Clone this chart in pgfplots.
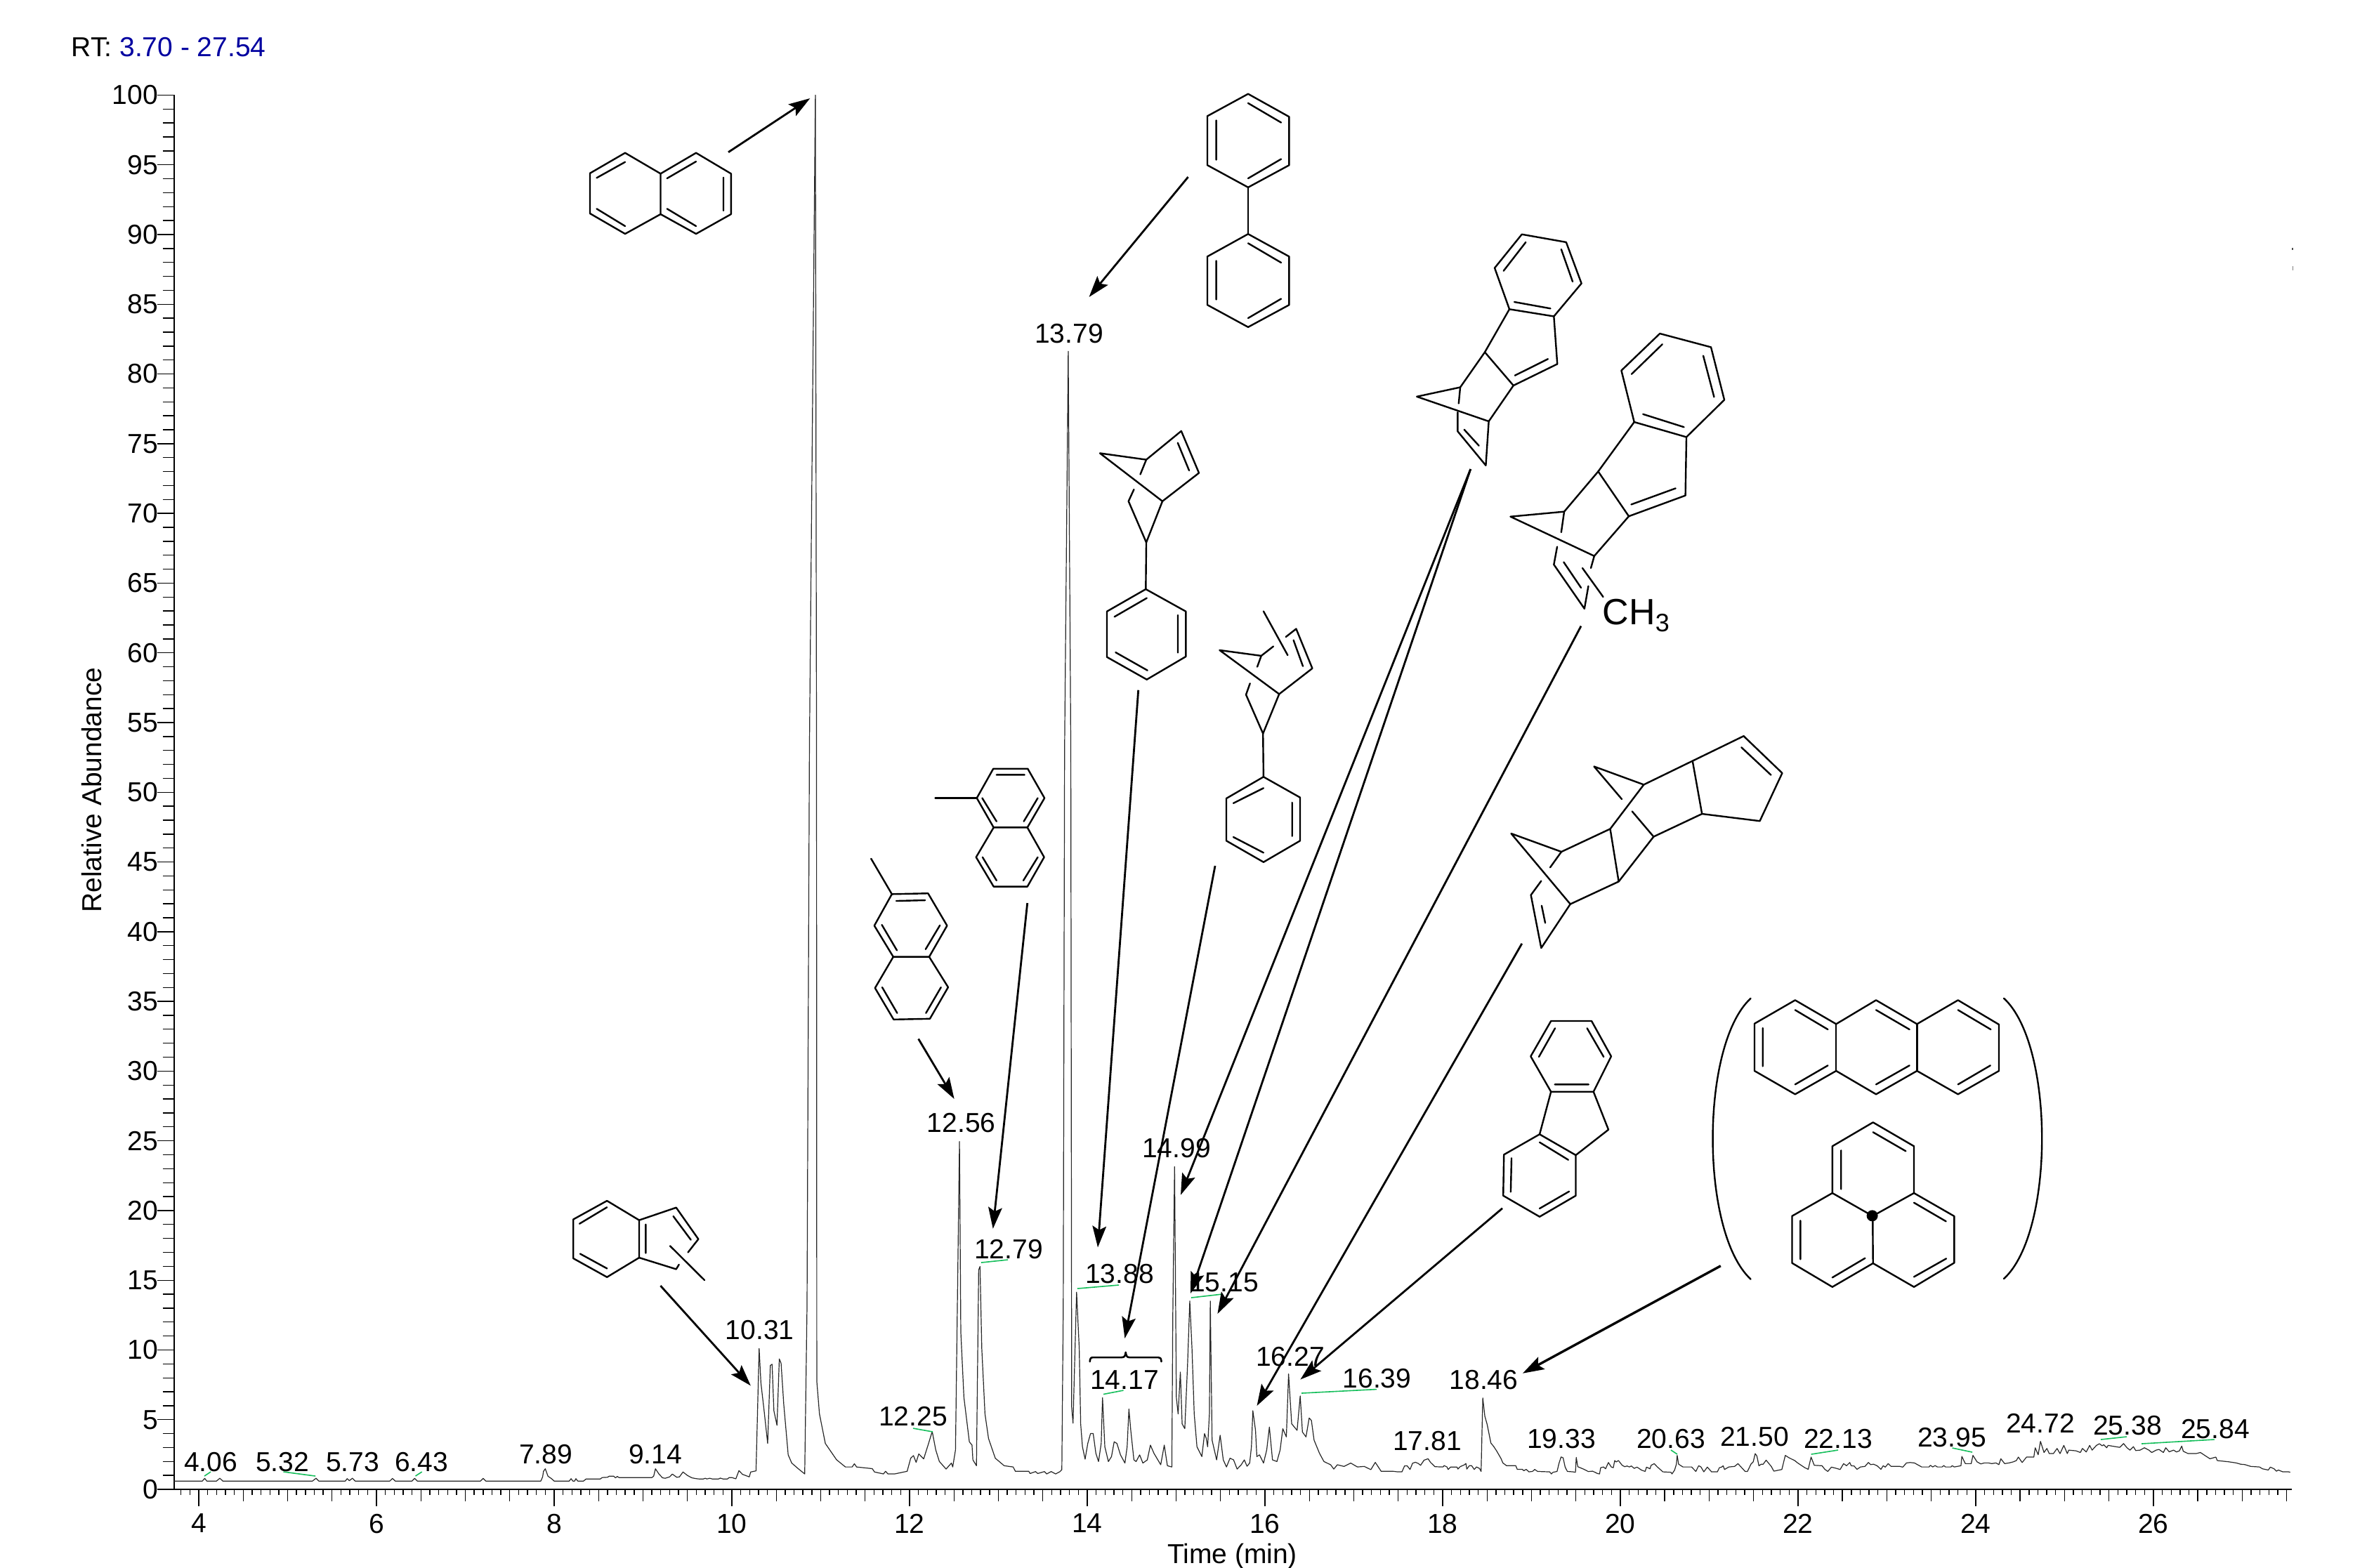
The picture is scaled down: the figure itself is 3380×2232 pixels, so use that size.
\documentclass[border=0pt]{standalone}
\usepackage{fontspec}
\setmainfont{Liberation Sans}
\usepackage{pgfplots}
\pgfplotsset{compat=1.18}
\usetikzlibrary{arrows.meta}
\newcommand\lab{\fontsize{9.75pt}{11pt}\selectfont}
\definecolor{leader}{RGB}{20,190,90}
\definecolor{rtblue}{RGB}{0,0,160}
\pgfplotsset{frame/.style={
  scale only axis,width=753.9pt,height=496.4pt,
  xmin=3.72,xmax=27.56,ymin=0,ymax=100,
  at={(61.9pt,-530.25pt)},anchor=south west,clip=false,
  tick align=outside,
  tick style={black,line width=0.35pt},
}}
\tikzset{
  b/.style={line width=0.6pt,line join=round,line cap=round},
  a/.style={line width=0.7pt,-{Stealth[length=7.6pt,width=4.9pt,inset=1.4pt]}},
  g/.style={line width=0.4pt,leader},
}
\newcommand\pk[3]{\node[font=\lab,inner sep=0pt] at (#1,#2) {#3};}
\begin{document}
\begin{tikzpicture}[x=0.25pt,y=-0.25pt]
\path[use as bounding box] (0,0) rectangle (3380,2232);
% 0.1-min ticks
\begin{axis}[frame,axis x line*=bottom,axis y line=none,
  xtick={3.8,3.9,...,27.5},xticklabels={},major tick length=2pt]
\end{axis}
% 0.5-min ticks
\begin{axis}[frame,axis x line*=bottom,axis y line=none,
  xtick={4,4.5,...,27.5},xticklabels={},major tick length=4.25pt]
\end{axis}
\begin{axis}[frame,axis x line*=bottom,axis y line*=left,
  axis line style={-,line width=0.5pt},
  xtick={4,6,...,26},
  ytick={0,5,...,100},minor y tick num=4,
  major tick length=6pt,minor tick length=4pt,
  every tick label/.append style={font=\lab},
  /pgf/number format/assume math mode=true,
  xticklabel style={inner sep=0pt,yshift=-2.5pt},
  yticklabel style={inner sep=0pt,xshift=0.5pt},
  xlabel={Time (min)},ylabel={Relative Abundance},
  every axis label/.append style={font=\lab},
  xlabel style={at={(axis description cs:0.4997,-0.0481)},anchor=center,inner sep=0pt},
  ylabel style={at={(axis description cs:-0.0387,0.5016)},anchor=center,inner sep=0pt},
]
\addplot[line width=0.3pt,black!85,line join=round,y filter/.expression={0.9985*y+0.15}] coordinates {
(3.72,0.45)(4.04,0.45)(4.067,0.64)(4.09,0.45)(4.20,0.45)(4.237,0.65)(4.27,0.45)(5.28,0.45)(5.32,0.65)(5.35,0.45)
(5.65,0.45)(5.67,0.62)(5.695,0.48)(5.73,0.65)(5.76,0.45)(6.15,0.45)(6.18,0.64)(6.21,0.45)(6.40,0.45)(6.43,0.64)(6.46,0.45)
(7.17,0.45)(7.20,0.64)(7.23,0.45)(7.85,0.45)(7.87,0.75)(7.88,1.15)(7.90,1.33)(7.93,0.80)(7.97,0.62)(8.0,0.45)
(8.17,0.45)(8.19,0.62)(8.21,0.45)(8.23,0.45)(8.245,0.62)(8.265,0.45)(8.33,0.45)(8.36,0.60)(8.52,0.60)(8.54,0.70)
(8.60,0.72)(8.62,0.80)(8.67,0.80)(8.69,0.68)(8.71,0.78)(8.73,0.70)(9.10,0.70)(9.12,0.80)(9.14,1.33)(9.18,0.95)
(9.22,0.68)(9.25,0.65)(9.30,0.75)(9.33,0.95)(9.38,0.72)(9.41,0.75)(9.45,1.1)(9.50,0.85)(9.55,0.68)(9.6,0.62)(9.63,0.60)
(9.68,0.60)(9.70,0.65)(9.72,0.60)(9.75,0.65)(9.78,0.60)(9.85,0.60)(9.87,0.66)(9.9,0.60)(9.95,0.60)(9.97,0.70)(10.0,0.70)
(10.045,0.61)(10.08,1.20)(10.12,0.93)(10.196,0.75)(10.212,1.10)(10.272,1.18)(10.307,9.97)(10.327,7.50)(10.363,5.50)
(10.403,3.15)(10.433,8.75)(10.453,8.84)(10.473,5.5)(10.508,4.45)(10.534,9.22)(10.554,8.91)(10.584,5.97)(10.634,2.33)
(10.674,1.74)(10.75,1.32)(10.82,0.96)(10.846,13)(10.873,53)(10.94,100)(10.953,53)(10.956,7.62)(10.986,5.27)(11.052,3.15)
(11.178,1.98)(11.278,1.46)(11.354,1.46)(11.379,1.69)(11.404,1.46)(11.58,1.34)(11.606,1.10)(11.706,0.96)(11.73,1.15)
(11.757,0.96)(11.832,0.96)(11.973,1.15)(12.013,2.09)(12.044,2.28)(12.074,1.79)(12.104,2.40)(12.159,2.04)(12.21,3.07)
(12.255,4.01)(12.295,2.68)(12.335,1.86)(12.411,1.31)(12.471,1.74)(12.486,1.46)(12.517,2.68)(12.562,24.84)(12.577,11.15)
(12.612,6.45)(12.673,3.27)(12.703,3.03)(12.713,1.97)(12.753,1.55)(12.778,15.62)(12.793,15.86)(12.813,9.97)(12.849,5.27)
(12.889,3.50)(12.965,2.09)(13.065,1.55)(13.166,1.46)(13.191,1.15)(13.342,1.15)(13.357,0.99)(13.418,1.13)(13.443,0.99)
(13.518,1.13)(13.543,0.96)(13.594,1.13)(13.644,0.96)(13.694,1.13)(13.714,1.27)(13.73,13)(13.745,53)(13.786,81.6)
(13.815,53)(13.825,5.74)(13.84,4.61)(13.88,14.02)(13.91,9.97)(13.926,4.56)(13.946,2.91)(13.976,2.02)(14.006,3.15)
(14.037,3.86)(14.067,3.86)(14.097,2.44)(14.127,1.85)(14.157,3.15)(14.172,6.44)(14.198,2.91)(14.238,1.85)(14.273,2.21)
(14.303,3.27)(14.334,3.15)(14.374,2.33)(14.424,1.74)(14.449,2.91)(14.469,5.62)(14.49,4.09)(14.525,1.97)(14.55,1.85)
(14.59,2.33)(14.626,1.74)(14.676,1.97)(14.711,3.03)(14.751,2.44)(14.827,1.62)(14.867,3.03)(14.902,1.55)(14.952,1.46)
(14.963,12.33)(14.983,23.03)(15.003,6.45)(15.023,5.27)(15.048,8.28)(15.068,4.56)(15.098,4.21)(15.129,8.80)(15.154,13.38)
(15.179,9.97)(15.204,5.27)(15.235,2.91)(15.29,2.21)(15.32,3.86)(15.34,3.50)(15.355,2.91)(15.375,5.27)(15.385,13.38)
(15.405,3.39)(15.456,1.97)(15.496,3.74)(15.531,1.97)(15.567,1.46)(15.607,2.09)(15.647,1.97)(15.687,1.31)(15.733,1.62)
(15.768,1.97)(15.798,1.51)(15.828,1.74)(15.848,2.91)(15.864,5.50)(15.894,4.09)(15.909,2.21)(15.939,2.33)(15.984,1.74)
(16.02,2.68)(16.05,4.33)(16.085,1.97)(16.135,1.85)(16.171,2.68)(16.201,4.21)(16.241,3.62)(16.266,8.14)(16.301,4.56)
(16.362,4.09)(16.397,6.56)(16.422,3.97)(16.462,3.62)(16.498,4.98)(16.523,4.80)(16.553,3.39)(16.614,2.44)(16.664,1.85)
(16.739,1.62)(16.775,1.31)(16.815,1.62)(16.89,1.50)(16.966,1.74)(17.041,1.46)(17.117,1.50)(17.192,1.27)(17.242,1.79)
(17.308,1.15)(17.444,1.15)
(17.494,1.11)(17.542,1.11)(17.571,1.53)(17.60,1.55)(17.633,1.28)(17.662,1.73)(17.694,1.80)(17.726,1.71)(17.752,1.58)
(17.791,1.95)(17.836,2.05)(17.865,1.78)(17.914,1.48)(18.004,1.46)(18.017,1.56)(18.049,1.46)(18.062,1.28)(18.088,1.45)
(18.162,1.45)(18.172,1.31)(18.197,1.48)(18.243,1.61)(18.262,1.71)(18.272,1.31)(18.301,1.55)(18.327,1.55)(18.356,1.28)
(18.381,1.46)(18.414,1.36)(18.433,1.14)(18.452,6.42)(18.475,5.11)(18.501,4.52)(18.543,3.18)(18.575,2.93)(18.607,2.62)
(18.656,2.08)(18.678,1.75)(18.72,1.55)(18.823,1.55)(18.84,1.29)(18.898,1.29)(18.914,1.19)(18.94,1.29)(18.972,1.11)
(19.011,1.14)(19.037,1.28)(19.069,1.14)(19.204,1.11)(19.224,0.96)(19.243,1.08)(19.288,1.14)(19.311,1.75)(19.333,2.18)
(19.356,2.12)(19.379,1.45)(19.404,1.14)(19.469,1.11)(19.495,1.08)(19.504,2.15)(19.521,1.48)(19.592,1.29)(19.64,1.13)
(19.688,1.16)(19.743,0.99)(19.766,0.96)(19.779,1.41)(19.811,1.46)(19.834,1.33)(19.866,1.78)(19.898,1.46)(19.921,1.41)
(19.937,1.92)(19.953,1.82)(19.979,1.92)(20.021,1.58)(20.05,1.48)(20.076,1.53)(20.101,1.46)(20.124,1.53)(20.156,1.36)
(20.188,1.45)(20.237,1.24)(20.279,1.14)(20.295,1.45)(20.334,1.33)(20.347,1.58)(20.382,1.70)(20.414,1.48)(20.479,1.11)
(20.569,1.08)(20.582,0.96)(20.611,1.24)(20.631,1.66)(20.64,2.29)(20.656,1.66)(20.705,1.46)(20.802,1.46)(20.85,1.14)
(20.882,1.55)(20.908,1.46)(20.94,1.11)(20.979,1.45)(21.027,1.11)(21.092,1.11)(21.115,1.41)(21.14,1.45)(21.157,1.55)
(21.173,1.28)(21.221,1.46)(21.286,1.50)(21.324,1.70)(21.366,1.41)(21.405,1.14)(21.431,1.14)(21.47,1.66)(21.496,1.83)
(21.518,2.42)(21.537,2.25)(21.56,1.55)(21.586,1.66)(21.608,1.66)(21.641,1.95)(21.673,1.70)(21.699,1.50)(21.728,1.16)
(21.818,1.28)(21.857,2.29)(21.899,2.12)(21.963,1.92)(21.996,1.75)(22.076,1.41)(22.115,1.29)(22.147,2.17)(22.183,1.58)
(22.27,1.55)(22.302,1.29)(22.335,1.14)(22.376,1.45)(22.431,1.36)
(22.474,1.28)(22.513,1.70)(22.546,1.55)(22.582,1.78)(22.599,1.55)(22.631,1.53)(22.664,1.29)(22.703,1.46)(22.753,1.50)
(22.792,1.78)(22.818,1.63)(22.851,1.66)(22.894,1.53)(22.933,1.29)(22.959,1.55)(22.982,1.45)(23.015,1.70)(23.048,1.50)
(23.146,1.50)(23.179,1.45)(23.221,1.75)(23.261,1.78)(23.31,1.75)(23.392,1.46)(23.474,1.46)(23.49,1.58)(23.516,1.46)
(23.543,1.56)(23.569,1.46)(23.621,1.46)(23.641,1.56)(23.661,1.46)(23.72,1.46)(23.736,1.55)(23.759,1.46)(23.834,1.55)
(23.844,2.22)(23.883,1.70)(23.949,1.70)(23.969,2.29)(24.015,1.83)(24.057,1.68)(24.097,1.75)(24.146,1.75)(24.179,1.70)
(24.228,1.75)(24.261,1.63)(24.283,2.05)(24.326,1.70)(24.375,1.75)(24.424,1.83)(24.457,1.92)(24.48,2.17)(24.523,1.78)
(24.572,2.17)(24.654,2.17)(24.67,2.84)(24.703,2.34)(24.729,3.30)(24.769,2.50)(24.801,2.79)(24.828,2.42)(24.874,2.42)
(24.916,2.79)(24.949,2.42)(24.992,3.01)(25.031,2.42)(25.047,2.67)(25.129,2.62)(25.178,2.50)(25.201,2.79)(25.244,2.54)
(25.283,3.01)(25.31,2.67)(25.359,3.01)(25.392,3.13)(25.424,2.98)(25.441,3.06)(25.474,2.84)(25.49,3.01)(25.572,2.92)
(25.621,2.87)(25.664,3.14)(25.703,2.84)(25.736,2.67)(25.775,2.92)(25.801,2.64)(25.85,2.67)(25.899,2.84)(25.949,2.67)
(25.982,2.50)(26.031,2.67)(26.063,2.72)(26.112,2.50)(26.139,2.84)(26.178,2.55)(26.227,2.67)(26.26,2.54)(26.293,2.62)
(26.319,2.96)(26.336,2.59)(26.391,2.42)(26.48,2.42)(26.529,2.50)(26.588,2.25)(26.637,2.05)(26.703,2.17)(26.719,1.92)
(26.85,1.83)(26.932,1.75)(26.981,1.66)(27.03,1.63)(27.096,1.50)(27.194,1.46)(27.227,1.33)(27.293,1.24)(27.316,1.45)
(27.358,1.33)(27.385,1.16)(27.407,1.24)(27.457,1.11)(27.522,1.11)(27.54,1.08)
};
\end{axis}
% header
\node[font=\lab,inner sep=0pt,anchor=west] at (101,67) {RT: \textcolor{rtblue}{3.70 - 27.54}};
% peak labels
\pk{300}{2082}{4.06}\pk{402}{2082}{5.32}\pk{502}{2082}{5.73}\pk{600}{2082}{6.43}
\pk{777}{2071}{7.89}\pk{933}{2071}{9.14}\pk{1081.6}{1894.5}{10.31}\pk{1300}{2017}{12.25}
\pk{1368.6}{1599.4}{12.56}\pk{1436}{1778.7}{12.79}\pk{1522}{475}{13.79}\pk{1594}{1814}{13.88}
\pk{1601}{1965.5}{14.17}\pk{1675}{1635}{14.99}\pk{1743}{1826}{15.15}\pk{1837}{1932}{16.27}
\pk{1960.5}{1963}{16.39}\pk{2032}{2052}{17.81}\pk{2112.5}{1965}{18.46}\pk{2223}{2049}{19.33}
\pk{2379}{2049}{20.63}\pk{2498}{2046}{21.50}\pk{2617}{2049}{22.13}\pk{2779}{2047}{23.95}
\pk{2905}{2027}{24.72}\pk{3029}{2030}{25.38}\pk{3154}{2035}{25.84}
% leader lines
\draw[g] (1300,2034)--(1328,2039);
\draw[g] (1397,1798)--(1435,1794);
\draw[g] (1534,1835)--(1593,1830);
\draw[g] (1571,1985.5)--(1599.5,1980);
\draw[g] (1696,1848)--(1740,1843);
\draw[g] (1853,1984)--(1960,1978.5);
\draw[g] (291,2102)--(300,2096);
\draw[g] (403.5,2096)--(449,2102);
\draw[g] (591.5,2102)--(600.7,2096);
\draw[g] (2379,2065)--(2388,2071);
\draw[g] (2578.6,2071)--(2617,2065);
\draw[g] (2779.5,2062)--(2808,2068);
\draw[g] (2991,2050)--(3028,2046);
\draw[g] (3049,2056)--(3152.7,2050);
% specks
\draw[line width=0.4pt,black!70] (3264,352.5)--(3264,356);
\draw[line width=0.3pt,black!50] (3264.3,379)--(3264.3,385);
% arrows
\draw[a] (1037,216.7)--(1153.3,140);
\draw[a] (1691.6,252)--(1550.5,423);
\draw[a] (2093.7,668)--(1681,1701.7);
\draw[a] (2093.7,668)--(1695,1842);
\draw[a] (2251,891.5)--(1733.4,1871);
\draw[a] (2166.8,1343.7)--(1789.5,2002);
\draw[a] (1620.7,982.7)--(1563,1776.4);
\draw[a] (1730,1233)--(1601.4,1906);
\draw[a] (1462.7,1286)--(1413.7,1749.8);
\draw[a] (1307.6,1479.4)--(1358.6,1565);
\draw[a] (940.4,1831)--(1068.8,1973.3);
\draw[a] (2139,1720.7)--(1851.4,1964.5);
\draw[a,line width=0.85pt] (2449.8,1802.7)--(2167.9,1955.7);
% brace
\draw[b,line width=0.65pt] (1551.7,1939) .. controls (1552,1934) and (1553,1933) .. (1557,1933)
 -- (1597,1933) .. controls (1601,1933) and (1602,1931) .. (1602.7,1925.8)
 .. controls (1603.4,1931) and (1604.5,1933) .. (1608,1933) -- (1649,1933)
 .. controls (1652,1933) and (1653,1934) .. (1653.5,1939);
% naphthalene
\draw[b] (890,217.7)--(840,246.7)--(840,304)--(890,333)--(940.5,305)--(940.5,247.3)--cycle;
\draw[b] (940.5,247.3)--(991,217.7)--(1040.8,247.3)--(1040.8,305)--(991,333)--(940.5,305);
\draw[b] (849.5,253.3)--(890,230.7) (849.5,297.3)--(890,322) (949.7,254)--(991,230) (1030,252.7)--(1030,300) (949.7,297.3)--(991,322);
% biphenyl
\draw[b] (1777,133.7)--(1835.4,166.3)--(1835.4,235.2)--(1777,266.8)--(1719,235.2)--(1719,165.3)--cycle;
\draw[b] (1777,146.9)--(1824,174.5) (1731.6,171.4)--(1731.6,227.6) (1777,254)--(1824,226.5);
\draw[b] (1777,266.8)--(1777,333.2);
\draw[b] (1777,333.2)--(1835.4,365.3)--(1835.4,434.2)--(1777,465.8)--(1719,434.2)--(1719,365.3)--cycle;
\draw[b] (1777,346.4)--(1824,374) (1731.6,371.4)--(1731.6,426.5) (1777,453)--(1824,425.5);
% phenyl-norbornene
\draw[b] (1632,654.6)--(1681.8,613.8)--(1707,673.5)--(1655,713.8)--(1566,645.4)--cycle;
\draw[b] (1676.8,630.6)--(1693,670);
\draw[b] (1632,654.6)--(1623.5,675.5) (1614.4,697)--(1606.7,713.8)--(1632,772.4)--(1655,713.8);
\draw[b] (1632,772.4)--(1631.3,839);
\draw[b] (1631.3,839)--(1688.3,870.7)--(1688.3,935)--(1632.7,967.7)--(1576,935.7)--(1576,870.7)--cycle;
\draw[b] (1632.7,851.7)--(1586.7,878.3) (1677,876)--(1677,929.3) (1588.3,929)--(1633.7,954.7);
% methylphenyl-norbornene
\draw[b] (1812.9,920.5)--(1795.7,933.9)--(1736.4,925.9)--(1821.2,988.4)--(1868.4,951.8)--(1845.4,895.5)--(1830.7,907);
\draw[b] (1841.6,911.6)--(1855,948.7) (1798.9,870.5)--(1833.3,933);
\draw[b] (1795.7,933.9)--(1790,949.6) (1779.7,973.2)--(1774,989.3)--(1798.2,1044.6)--(1821.2,988.4);
\draw[b] (1798.2,1044.6)--(1798.9,1106.3);
\draw[b] (1798.9,1106.3)--(1851,1135.7)--(1851,1197.3)--(1798.9,1227.7)--(1746,1197.3)--(1746,1137)--cycle;
\draw[b] (1756,1143.8)--(1798.9,1122.3) (1839.7,1142.9)--(1839.7,1190.6) (1756,1192)--(1798.9,1214.3);
% indeno-norbornadiene
\draw[b] (2166.7,333.7)--(2229.8,344.9)--(2251.6,403.6)--(2212.3,450.5)--(2149,440.3)--(2128,381.6)--cycle;
\draw[b] (2172.3,344.9)--(2140.7,385.7) (2222.8,355)--(2239,401) (2156,430)--(2207.4,439.3);
\draw[b] (2149,440.3)--(2114,501.5)--(2154.7,549)--(2217.2,518.4)--(2212.3,450.5);
\draw[b] (2156.8,534.7)--(2203.9,511.2);
\draw[b] (2114,501.5)--(2079,551.5)--(2017.2,564.8)--(2119.6,600)--(2154.7,549);
\draw[b] (2079,551.5)--(2076.8,574.5) (2075.4,587)--(2075.4,614.3)--(2115.4,662.8)--(2119.6,600);
\draw[b] (2084.6,611.7)--(2105.6,634.7);
% methyl version
\draw[b] (2363.2,475)--(2436,494.4)--(2455,569.4)--(2401,622.4)--(2326.7,601)--(2308.4,527.6)--cycle;
\draw[b] (2366.7,490.3)--(2323,532.7) (2425,506.6)--(2440.4,565.3) (2339.3,589.8)--(2397.5,608.2);
\draw[b] (2326.7,601)--(2275.4,671.4)--(2319,735.2)--(2399.6,705.6)--(2401,622.4);
\draw[b] (2322.5,718.4)--(2385.6,695.4);
\draw[b] (2275.4,671.4)--(2227,728.6)--(2150.5,735.7)--(2269.8,791.8)--(2319,735.2);
\draw[b] (2227,728.6)--(2222.8,758) (2217,778.6)--(2212.3,804)--(2255.8,866.8)--(2261.4,834.7) (2265,809)--(2269.8,791.8);
\draw[b] (2226.3,800.5)--(2251,837) (2253,809)--(2282.5,850);
\node[inner sep=0pt,font=\fontsize{13pt}{15pt}\selectfont,anchor=base west] at (2281,889) {CH\raisebox{-2.5pt}{\fontsize{9pt}{10pt}\selectfont 3}};
% polycyclic
\draw[b] (2482.5,1048.2)--(2537.4,1100.9)--(2505.5,1169.2)--(2423.2,1159)--(2409.8,1084);
\draw[b] (2482.5,1048.2)--(2340.3,1117.4)--(2269.5,1091.5)--(2309,1138);
\draw[b] (2479.3,1064.3)--(2521.4,1103.6);
\draw[b] (2323.7,1155.4)--(2354.3,1191.5)--(2423.2,1159);
\draw[b] (2340.3,1117.4)--(2292.5,1180.4)--(2223,1213)--(2151.5,1187)--(2235.7,1287.5)--(2304.6,1255.4)--(2292.5,1180.4);
\draw[b] (2354.3,1191.5)--(2304.6,1255.4);
\draw[b] (2223,1213)--(2207,1235.3) (2194.3,1254.5)--(2179.6,1274.6)--(2194.3,1350)--(2235.7,1287.5);
\draw[b] (2194.9,1289.7)--(2200,1314.3);
% fluorene
\draw[b] (2208.2,1454)--(2266,1454)--(2293.9,1504.3)--(2268.7,1554.7)--(2208.2,1554.7)--(2179.3,1504.3)--cycle;
\draw[b] (2214,1464.3)--(2191,1505) (2259.6,1464.3)--(2283.2,1505) (2213.6,1544.3)--(2261.8,1544.3);
\draw[b] (2208.2,1554.7)--(2192,1615.3) (2268.7,1554.7)--(2290,1608.7)--(2243.5,1645);
\draw[b] (2192,1615.3)--(2243.5,1645)--(2243.5,1702.7)--(2192,1732.7)--(2140.2,1702.7)--(2141.2,1644.3)--cycle;
\draw[b] (2192,1626.7)--(2232.8,1651.7) (2152,1649.3)--(2150.9,1697.3) (2192,1721)--(2234,1696.7);
% anthracene
\draw[b] (2498,1457.7)--(2555.8,1424.3)--(2614.2,1458.3)--(2671,1424.3)--(2729.3,1458.3)--(2787.7,1424.3)--(2846,1459)--(2846,1525)--(2787.7,1558.3)--(2729.3,1525)--(2671,1558.3)--(2614.2,1525)--(2555.8,1558.3)--(2498,1525)--cycle;
\draw[b] (2614.2,1458.3)--(2614.2,1525) (2729.3,1458.3)--(2729.3,1525);
\draw[b] (2555.8,1438.3)--(2602.4,1466) (2509.7,1464)--(2509.7,1518.3) (2555.8,1544.3)--(2602.4,1517.3) (2671,1438.3)--(2718.6,1466) (2671,1544.3)--(2718.6,1517.3) (2787.7,1438.3)--(2834.3,1466) (2787.7,1544.3)--(2833.8,1517.3);
% phenalene
\draw[b] (2666.7,1598.3)--(2725,1632.3)--(2725,1699)--(2666.2,1731.7)--(2608.8,1699)--(2608.8,1632.3)--cycle;
\draw[b] (2608.8,1699)--(2551.5,1731.7)--(2551.5,1798.7)--(2608.8,1832.7)--(2666.7,1799)--(2725,1832.7)--(2782.4,1798.3)--(2782.4,1732)--(2725,1699);
\draw[b] (2666.2,1731.7)--(2666.7,1799);
\draw[b] (2666.7,1612.3)--(2713.3,1639.3) (2621.2,1638.3)--(2621.2,1693.3) (2563.3,1738.3)--(2563.3,1793.3) (2608.8,1819.3)--(2655.4,1791.7) (2725,1712.7)--(2770.6,1739.3) (2725,1818.3)--(2771,1792.3);
\fill (2665.6,1731.3) circle[radius=8];
% parentheses
\draw[b] (2492.6,1421.7) .. controls (2420.5,1488) and (2420.5,1755) .. (2492.6,1821.7);
\draw[b] (2853,1421.7) .. controls (2925.3,1488) and (2925.3,1755) .. (2853,1821);
% methylindene
\draw[b] (864.2,1710)--(910,1737.6)--(910,1791)--(864.2,1818.7)--(816.2,1792)--(816.2,1736.5)--cycle;
\draw[b] (825,1742.7)--(864.2,1719.2) (919.3,1743.7)--(919.3,1784.5) (826,1785.5)--(864.2,1806.4);
\draw[b] (910,1737.6)--(962.7,1719.7)--(994.3,1764.6)--(979.5,1783.5);
\draw[b] (958.6,1732)--(983.6,1765.6);
\draw[b] (910,1791)--(962.7,1807.4)--(966.7,1800.8);
\draw[b] (954,1774.3)--(1003,1823);
% 2-methylnaphthalene
\draw[b] (1269.8,1273.3)--(1321.3,1272.2)--(1348.4,1318.2)--(1322.9,1362.6)--(1271.8,1362.6)--(1244.8,1318.2)--cycle;
\draw[b] (1271.8,1362.6)--(1245.8,1407)--(1272.3,1451.8)--(1323.9,1450.8)--(1349.9,1405.9)--(1322.9,1362.6);
\draw[b] (1240.2,1222.8)--(1269.8,1273.3);
\draw[b] (1276,1283)--(1317.2,1282) (1255.5,1317)--(1277,1353.4) (1338.2,1317.7)--(1317.8,1351.8) (1256,1406)--(1277.4,1442.7) (1339.7,1406)--(1318.3,1442.7);
% 1-methylnaphthalene
\draw[b] (1414.2,1094.7)--(1463.2,1094.7)--(1487.1,1136.5)--(1462.7,1178.4)--(1414.7,1178.4)--(1390.7,1136.5)--cycle;
\draw[b] (1414.7,1178.4)--(1389.7,1220.7)--(1414.7,1262.6)--(1462.7,1262.6)--(1486.6,1220.7)--(1462.7,1178.4);
\draw[b] (1331.5,1136.5)--(1390.7,1136.5);
\draw[b] (1418.8,1103.4)--(1458.6,1103.4) (1398.4,1136.5)--(1418.8,1169.7) (1477.5,1136.5)--(1457.6,1169.7) (1398.9,1220.7)--(1418.8,1253.9) (1477.5,1220.7)--(1457,1253.9);
\end{tikzpicture}
\end{document}
